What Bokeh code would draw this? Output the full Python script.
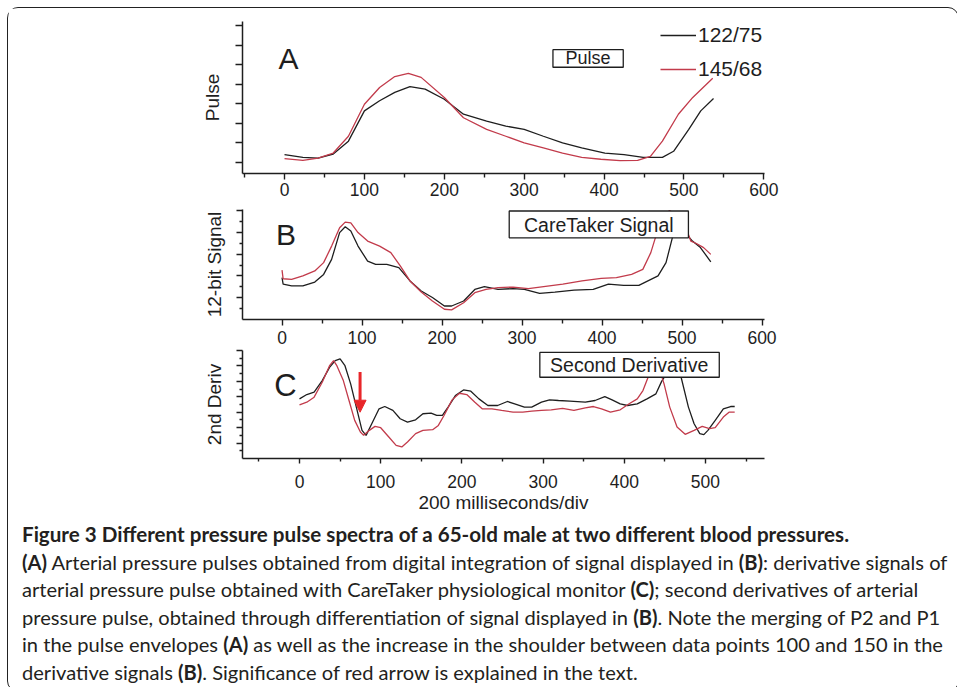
from bokeh.plotting import figure
from bokeh.layouts import column
from bokeh.models import (Label, BoxAnnotation, Legend, LegendItem, Arrow, NormalHead,
                          Div, FixedTicker, Range1d)
from bokeh.embed import file_html
from bokeh.resources import INLINE

FONT = "Liberation Sans"
INK = "#1e1e1e"
RED = "#c23b4b"

# ---------------- data ----------------
# Panel A : Pulse
a_black_x = [0, 23, 42, 61, 80, 100, 119, 138, 157, 176, 200, 224, 253, 277, 300, 324, 348, 372, 401, 425, 449, 473, 487, 506, 521, 537]
a_black_y = [1.40, 1.26, 1.22, 1.43, 2.09, 3.64, 4.16, 4.59, 4.88, 4.76, 4.24, 3.47, 3.12, 2.86, 2.69, 2.34, 2.00, 1.74, 1.48, 1.40, 1.26, 1.26, 1.57, 2.69, 3.64, 4.28]
a_red_x = [0, 23, 42, 61, 80, 100, 119, 138, 155, 171, 200, 224, 253, 277, 300, 324, 348, 372, 396, 420, 442, 458, 473, 493, 511, 536]
a_red_y = [1.19, 1.10, 1.22, 1.48, 2.34, 3.98, 4.84, 5.40, 5.57, 5.36, 4.33, 3.29, 2.69, 2.34, 2.00, 1.74, 1.48, 1.26, 1.16, 1.09, 1.10, 1.31, 2.09, 3.47, 4.33, 5.31]

# Panel B : CareTaker signal (12-bit)
b_black_x = [0, 1.4, 12, 26, 41, 52, 62, 72, 79, 86, 95, 107, 117, 131, 146, 160, 174, 188, 203, 212, 227, 241, 253, 270, 289, 303, 322, 341, 365, 389, 408, 427, 446, 470, 480, 489, 494, 504, 513, 523, 536]
b_black_y = [1.92, 1.62, 1.54, 1.54, 1.72, 2.07, 2.76, 3.99, 4.26, 4.06, 3.37, 2.68, 2.53, 2.53, 2.38, 1.77, 1.31, 1.01, 0.62, 0.62, 0.85, 1.38, 1.51, 1.38, 1.42, 1.38, 1.20, 1.26, 1.35, 1.38, 1.62, 1.57, 1.57, 2.00, 2.61, 3.91, 4.21, 3.99, 3.60, 3.30, 2.65]
b_red_x = [0, 1.4, 12, 26, 41, 52, 62, 72, 79, 86, 95, 107, 122, 136, 148, 160, 174, 188, 203, 212, 227, 241, 255, 270, 289, 308, 327, 351, 375, 399, 418, 437, 451, 461, 468, 475, 484, 495, 505, 511, 518, 527, 536]
b_red_y = [2.27, 1.87, 1.84, 2.00, 2.23, 2.61, 3.37, 4.21, 4.47, 4.44, 3.99, 3.60, 3.37, 3.07, 2.45, 1.77, 1.26, 0.85, 0.47, 0.44, 0.77, 1.23, 1.38, 1.46, 1.49, 1.42, 1.51, 1.62, 1.77, 1.89, 1.92, 2.07, 2.30, 3.07, 3.91, 4.60, 5.00, 4.80, 4.20, 3.60, 3.49, 3.30, 2.99]

# Panel C : second derivative
c_black_x = [0, 9, 18, 28, 37, 44, 50, 56, 63, 70, 77, 82, 89, 98, 105, 115, 124, 133, 143, 152, 162, 169, 176, 183, 192, 202, 211, 221, 232, 244, 256, 265, 277, 286, 298, 308, 319, 333, 352, 364, 376, 385, 395, 404, 416, 428, 439, 446, 455, 462, 470, 479, 486, 493, 498, 503, 512, 522, 531, 536]
c_black_y = [7.73, 8.29, 8.59, 10.10, 11.82, 12.68, 12.90, 12.03, 9.67, 6.66, 3.65, 3.00, 4.51, 6.44, 6.74, 6.23, 5.15, 4.72, 5.02, 5.80, 5.88, 5.58, 5.58, 6.66, 8.16, 8.89, 8.72, 7.73, 6.87, 6.87, 7.39, 7.09, 6.66, 6.66, 7.30, 7.60, 7.52, 7.43, 7.30, 7.52, 8.03, 7.60, 7.09, 6.87, 7.09, 7.73, 8.38, 10.00, 11.50, 12.50, 10.53, 6.66, 4.51, 3.22, 3.09, 3.65, 4.94, 6.44, 6.74, 6.74]
c_red_x = [0, 9, 18, 28, 37, 42, 46, 54, 61, 68, 75, 79, 86, 93, 100, 110, 119, 126, 133, 143, 152, 164, 171, 178, 188, 197, 206, 216, 225, 237, 249, 263, 275, 286, 298, 310, 324, 338, 352, 362, 372, 383, 395, 406, 416, 423, 428, 435, 439, 444, 449, 456, 465, 475, 486, 496, 505, 512, 522, 529, 536]
c_red_y = [6.96, 7.30, 7.95, 9.88, 12.03, 12.68, 12.03, 10.10, 7.52, 4.94, 3.43, 3.00, 3.65, 4.16, 3.99, 2.79, 1.71, 1.50, 2.14, 3.22, 3.65, 3.73, 4.29, 5.58, 7.60, 8.46, 8.29, 7.30, 6.44, 6.44, 6.23, 6.01, 6.01, 6.14, 6.23, 6.31, 6.49, 6.23, 6.57, 6.74, 6.44, 6.01, 6.31, 7.09, 7.73, 8.81, 10.18, 12.00, 12.70, 11.39, 9.67, 6.66, 4.08, 3.13, 3.65, 4.16, 3.86, 3.99, 5.37, 6.01, 6.01]

series_labels = ["122/75", "145/68"]
x_major_ab = [0, 100, 200, 300, 400, 500, 600]
x_minor_ab = [-50, 50, 150, 250, 350, 450, 550]
x_major_c = [0, 100, 200, 300, 400, 500]
x_minor_c = [-50, 50, 150, 250, 350, 450, 550]

caption_title = "Figure 3 Different pressure pulse spectra of a 65-old male at two different blood pressures."
caption_lines = [
    "<b>(A)</b> Arterial pressure pulses obtained from digital integration of signal displayed in <b>(B)</b>: derivative signals of",
    "arterial pressure pulse obtained with CareTaker physiological monitor <b>(C)</b>; second derivatives of arterial",
    "pressure pulse, obtained through differentiation of signal displayed in <b>(B)</b>. Note the merging of P2 and P1",
    "in the pulse envelopes <b>(A)</b> as well as the increase in the shoulder between data points 100 and 150 in the",
    "derivative signals <b>(B)</b>. Significance of red arrow is explained in the text.",
]

W = 940
# all three plot frames share the same left/right edges (Bokeh aligns them in a column)
BORDER_LEFT = 234
BORDER_RIGHT = 184


def base_fig(height, xr, yr, top, bottom):
    p = figure(width=W, height=height, x_range=Range1d(*xr), y_range=Range1d(*yr),
               output_backend="svg", toolbar_location=None,
               min_border_left=BORDER_LEFT, min_border_right=BORDER_RIGHT,
               min_border_top=top, min_border_bottom=bottom)
    p.outline_line_color = None
    p.grid.visible = False
    p.background_fill_color = "white"
    p.border_fill_color = "white"
    for ax in (p.xaxis[0], p.yaxis[0]):
        ax.axis_line_color = INK
        ax.axis_line_width = 1.5
        ax.major_tick_line_color = INK
        ax.minor_tick_line_color = INK
        ax.major_tick_line_width = 1.4
        ax.minor_tick_line_width = 1.4
        ax.major_tick_in = 0
        ax.minor_tick_in = 0
        ax.major_label_text_font = FONT
        ax.major_label_text_font_size = "17.5px"
        ax.major_label_text_color = INK
        ax.axis_label_text_font = FONT
        ax.axis_label_text_font_size = "19px"
        ax.axis_label_text_font_style = "normal"
        ax.axis_label_text_color = INK
    # y axes carry ticks but no numbers
    p.yaxis.major_label_text_font_size = "1px"
    p.yaxis.major_label_text_color = None
    p.yaxis.major_label_standoff = 0
    return p


def panel_letter(p, x, y, text, size):
    p.add_layout(Label(x=x, y=y, text=text, text_font=FONT, text_font_size=size,
                       text_color=INK, text_baseline="middle", text_align="left"))


# ---------------- Panel A ----------------
pA = base_fig(193, (-52.6, 600.8), (0.43, 8.225), 13, 28)
pA.xaxis.ticker = FixedTicker(ticks=x_major_ab, minor_ticks=x_minor_ab)
pA.xaxis.major_tick_out = 6
pA.xaxis.minor_tick_out = 4
pA.xaxis.major_label_standoff = 3
pA.yaxis.ticker = FixedTicker(ticks=[1, 2, 3, 4, 5, 6, 7, 8], minor_ticks=[])
pA.yaxis.major_tick_out = 7
pA.yaxis.minor_tick_out = 0
pA.yaxis.axis_label = "Pulse"
pA.yaxis.axis_label_standoff = 13
ra_k = pA.line(a_black_x, a_black_y, line_color=INK, line_width=1.3)
ra_r = pA.line(a_red_x, a_red_y, line_color=RED, line_width=1.3)
pA.add_layout(BoxAnnotation(left=336, right=424, bottom=5.88, top=6.78, fill_color="white",
                            fill_alpha=1, line_color=INK, line_width=1.3, line_alpha=1))
pA.add_layout(Label(x=380, y=6.33, text="Pulse", text_align="center", text_baseline="middle",
                    text_font=FONT, text_font_size="18px", text_color=INK))
panel_letter(pA, -7.5, 6.35, "A", "30px")
legA = Legend(items=[LegendItem(label=series_labels[0], renderers=[ra_k]),
                     LegendItem(label=series_labels[1], renderers=[ra_r])],
              location=(418, 92), orientation="vertical",
              label_text_font=FONT, label_text_font_size="21px", label_text_color=INK,
              glyph_width=36, glyph_height=20, label_height=20, label_standoff=2,
              spacing=10, padding=0, margin=0, border_line_alpha=0, background_fill_alpha=0)
pA.add_layout(legA)

# ---------------- Panel B ----------------
pB = base_fig(148, (-49.4, 603.1), (0, 5.05), 8, 30)
pB.xaxis.ticker = FixedTicker(ticks=x_major_ab, minor_ticks=x_minor_ab)
pB.xaxis.major_tick_out = 6
pB.xaxis.minor_tick_out = 4
pB.xaxis.major_label_standoff = 5
pB.yaxis.ticker = FixedTicker(ticks=[1, 2, 3, 4, 5], minor_ticks=[0.5, 1.5, 2.5, 3.5, 4.5])
pB.yaxis.major_tick_out = 6
pB.yaxis.minor_tick_out = 3
pB.yaxis.axis_label = "12-bit Signal"
pB.yaxis.axis_label_standoff = 12
pB.line(b_black_x, b_black_y, line_color=INK, line_width=1.3)
pB.line(b_red_x, b_red_y, line_color=RED, line_width=1.3)
pB.add_layout(BoxAnnotation(left=284, right=508, bottom=3.75, top=4.98, fill_color="white",
                            fill_alpha=1, line_color=INK, line_width=1.3, line_alpha=1))
pB.add_layout(Label(x=396, y=4.36, text="CareTaker Signal", text_align="center", text_baseline="middle",
                    text_font=FONT, text_font_size="19.5px", text_color=INK))
panel_letter(pB, -7.5, 3.90, "B", "30px")

# ---------------- Panel C ----------------
pC = base_fig(167, (-70.2, 572.7), (0, 14), 1, 58)
pC.xaxis.ticker = FixedTicker(ticks=x_major_c, minor_ticks=x_minor_c)
pC.xaxis.major_tick_out = 5
pC.xaxis.minor_tick_out = 3
pC.xaxis.major_label_standoff = 11
pC.xaxis.axis_label = "200 milliseconds/div"
pC.xaxis.axis_label_standoff = 1
pC.yaxis.ticker = FixedTicker(ticks=[2, 4, 6, 8, 10, 12, 14], minor_ticks=[1, 3, 5, 7, 9, 11, 13])
pC.yaxis.major_tick_out = 6
pC.yaxis.minor_tick_out = 3
pC.yaxis.axis_label = "2nd Deriv"
pC.yaxis.axis_label_standoff = 12
pC.line(c_black_x, c_black_y, line_color=INK, line_width=1.3)
pC.line(c_red_x, c_red_y, line_color=RED, line_width=1.3)
pC.add_layout(BoxAnnotation(left=296, right=517, bottom=10.53, top=13.75, fill_color="white",
                            fill_alpha=1, line_color=INK, line_width=1.3, line_alpha=1))
pC.add_layout(Label(x=406, y=12.14, text="Second Derivative", text_align="center", text_baseline="middle",
                    text_font=FONT, text_font_size="19.5px", text_color=INK))
panel_letter(pC, -31, 9.46, "C", "31px")
pC.add_layout(Arrow(x_start=74.6, y_start=11.2, x_end=74.6, y_end=6.0,
                    end=NormalHead(size=12, fill_color="#e8262a", line_color="#e8262a"),
                    line_color="#e8262a", line_width=3))

# ---------------- Caption ----------------
cap_html = ('<div style="font-family: Lato, \'Open Sans\', sans-serif; '
            'font-size: 20.1px; line-height: 27.5px; color: #231f20; white-space: nowrap; padding-left: 9px;">'
            '<b style="font-size: 20.6px;">' + caption_title + '</b><br>' + '<br>'.join(caption_lines) + '</div>')
cap = Div(text=cap_html, width=W, height=165)

layout = column(pA, pB, pC, cap, spacing=0,
                styles={"margin": "8px 8px 0px 8px", "outline": "1.5px solid #222", "border-radius": "10px",
                        "background": "white"})

open("out.html", "w").write(file_html(layout, INLINE))
